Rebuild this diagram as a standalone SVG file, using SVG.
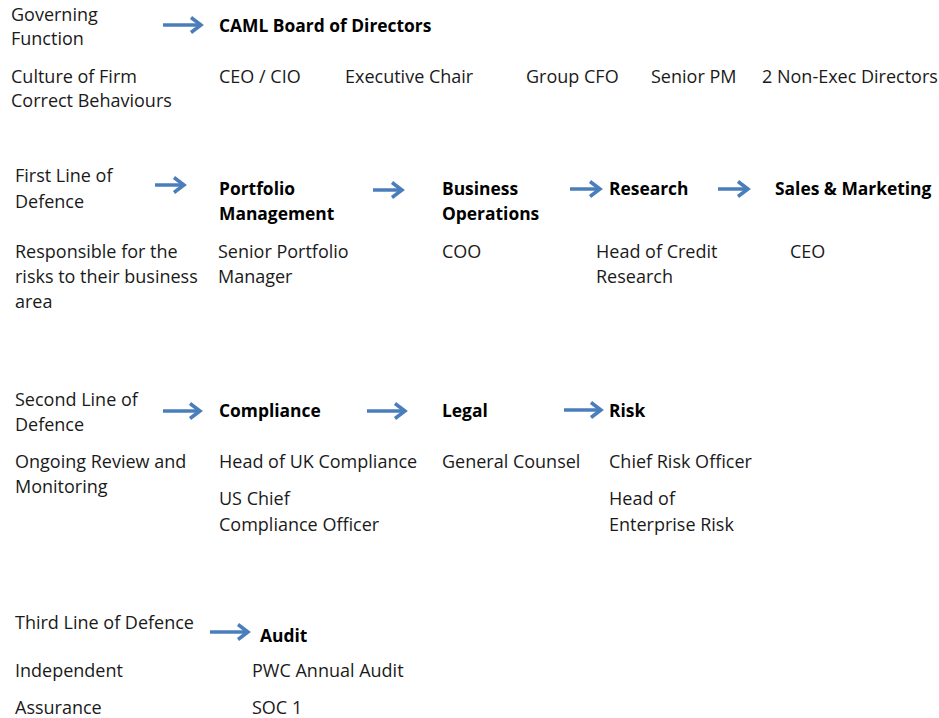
<svg xmlns="http://www.w3.org/2000/svg" width="939" height="718" viewBox="0 0 939 718">
<style>
text{font-family:"Open Sans","Liberation Sans",sans-serif;font-size:18px;fill:#1a1a1a}
.b{font-weight:bold;fill:#000;font-size:17.4px}
.c{stroke:#4a7ebb;stroke-width:3.5;fill:none}
</style>
<defs>
<marker id="ah" markerUnits="userSpaceOnUse" markerWidth="18" markerHeight="22" viewBox="-14 -11 18 22" refX="0" refY="0" orient="auto">
<polyline points="-10,-7.5 0,0 -10,7.5" fill="none" stroke="#4a7ebb" stroke-width="3.5" stroke-linejoin="miter"/>
</marker>
</defs>
<rect width="939" height="718" fill="#fff"/>
<g id="connectors">
<line class="c" x1="163" y1="25" x2="201" y2="25" marker-end="url(#ah)"/>
<line class="c" x1="155" y1="185" x2="184" y2="185" marker-end="url(#ah)"/>
<line class="c" x1="373" y1="190" x2="402" y2="190" marker-end="url(#ah)"/>
<line class="c" x1="570" y1="189" x2="600" y2="189" marker-end="url(#ah)"/>
<line class="c" x1="718" y1="189" x2="748" y2="189" marker-end="url(#ah)"/>
<line class="c" x1="163" y1="411" x2="200" y2="411" marker-end="url(#ah)"/>
<line class="c" x1="367" y1="411" x2="405" y2="411" marker-end="url(#ah)"/>
<line class="c" x1="564" y1="410" x2="601" y2="410" marker-end="url(#ah)"/>
<line class="c" x1="210" y1="632" x2="248" y2="632" marker-end="url(#ah)"/>
</g>
<g id="governing">
<text x="11" y="21">Governing</text>
<text x="11" y="45">Function</text>
<text x="11" y="83">Culture of Firm</text>
<text x="11" y="107">Correct Behaviours</text>
</g>
<g id="board">
<text class="b" x="219" y="32">CAML Board of Directors</text>
<text x="219" y="83">CEO / CIO</text>
<text x="345" y="83">Executive Chair</text>
<text x="526" y="83">Group CFO</text>
<text x="651" y="83">Senior PM</text>
<text x="762" y="83">2 Non-Exec Directors</text>
</g>
<g id="first-line">
<text x="15" y="182">First Line of</text>
<text x="15" y="208">Defence</text>
<text x="15" y="258">Responsible for the</text>
<text x="15" y="283">risks to their business</text>
<text x="15" y="308">area</text>
</g>
<g id="portfolio">
<text class="b" x="219" y="195">Portfolio</text>
<text class="b" x="219" y="220">Management</text>
<text x="218" y="258">Senior Portfolio</text>
<text x="218" y="283">Manager</text>
</g>
<g id="operations">
<text class="b" x="442" y="195">Business</text>
<text class="b" x="442" y="220">Operations</text>
<text x="442" y="258">COO</text>
</g>
<g id="research">
<text class="b" x="609" y="195">Research</text>
<text x="596" y="258">Head of Credit</text>
<text x="596" y="283">Research</text>
</g>
<g id="sales">
<text class="b" x="775" y="195">Sales &amp; Marketing</text>
<text x="790" y="258">CEO</text>
</g>
<g id="second-line">
<text x="15" y="406">Second Line of</text>
<text x="15" y="431">Defence</text>
<text x="15" y="468">Ongoing Review and</text>
<text x="15" y="493">Monitoring</text>
</g>
<g id="compliance">
<text class="b" x="219" y="417">Compliance</text>
<text x="219" y="468">Head of UK Compliance</text>
<text x="219" y="505">US Chief</text>
<text x="219" y="531">Compliance Officer</text>
</g>
<g id="legal">
<text class="b" x="442" y="417">Legal</text>
<text x="442" y="468">General Counsel</text>
</g>
<g id="risk">
<text class="b" x="609" y="417">Risk</text>
<text x="609" y="468">Chief Risk Officer</text>
<text x="609" y="505">Head of</text>
<text x="609" y="531">Enterprise Risk</text>
</g>
<g id="third-line">
<text x="15" y="629">Third Line of Defence</text>
<text x="15" y="677">Independent</text>
<text x="15" y="714">Assurance</text>
</g>
<g id="audit">
<text class="b" x="260" y="642">Audit</text>
<text x="252" y="677">PWC Annual Audit</text>
<text x="252" y="714">SOC 1</text>
</g>
</svg>
